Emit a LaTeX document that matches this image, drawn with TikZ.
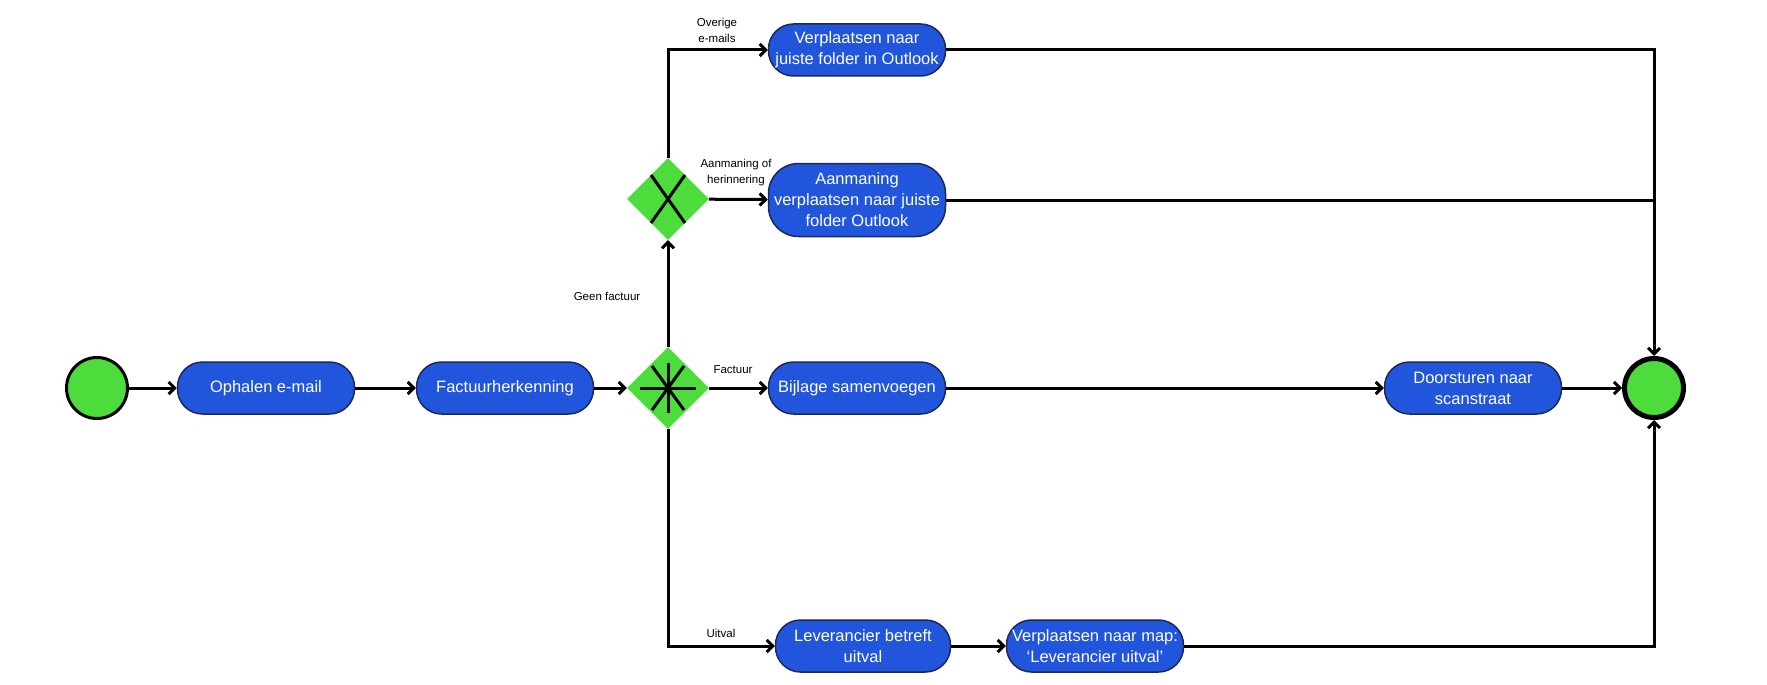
\documentclass[tikz,border=0pt]{standalone}
\usepackage{fontspec}
\setmainfont{Liberation Sans}
\usetikzlibrary{shapes.geometric,arrows.meta}
\definecolor{taskblue}{RGB}{33,85,219}
\definecolor{taskedge}{RGB}{28,40,90}
\definecolor{gwgreen}{RGB}{76,221,60}

\begin{document}
\begin{tikzpicture}[x=1pt, y=-1pt,
  task/.style={draw=taskedge, line width=1.5pt, fill=taskblue, text=white,
    rounded corners=25pt, minimum width=177pt, minimum height=52pt,
    inner sep=0pt, align=center, font=\fontsize{16.5}{21}\selectfont},
  gate/.style={diamond, fill=gwgreen, minimum width=82pt, minimum height=82pt, inner sep=0pt},
  event/.style={circle, draw=black, fill=gwgreen, line width=3pt, minimum size=61pt, inner sep=0pt},
  flow/.style={line width=3pt, -{Straight Barb[length=6pt,width=12pt]}},
  gwsign/.style={line width=3pt},
  lbl/.style={font=\fontsize{11.5}{16}\selectfont, align=center, inner sep=0pt}]
  \useasboundingbox (0,0) rectangle (1767,685);
  % events
  \node[event] (start) at (97,388) {};
  \node[event, line width=5pt, minimum size=59pt] (end) at (1654,388) {};
  % tasks
  \node[task] (oph) at (266,388) {Ophalen e-mail};
  \node[task] (fac) at (505,388) {Factuurherkenning};
  \node[task] (top) at (857,50) {Verplaatsen naar\\juiste folder in Outlook};
  \node[task, minimum height=73pt, rounded corners=30pt] (aan) at (857,200)
    {Aanmaning\\verplaatsen naar juiste\\folder Outlook};
  \node[task] (bij) at (857,388) {Bijlage samenvoegen};
  \node[task] (door) at (1473,388) {Doorsturen naar\\scanstraat};
  \node[task, minimum width=175pt] (lev) at (863,646) {Leverancier betreft\\uitval};
  \node[task] (map) at (1095,646) {Verplaatsen naar map:\\‘Leverancier uitval’};
  % gateways
  \node[gate] (gw1) at (668,388) {};
  \node[gate] (gw2) at (668,199) {};
  \draw[gwsign] ([shift={(-17,-24)}]gw2.center) -- ([shift={(17,24)}]gw2.center);
  \draw[gwsign] ([shift={(-17,24)}]gw2.center) -- ([shift={(17,-24)}]gw2.center);
  \draw[gwsign] ([shift={(-28,0)}]gw1.center) -- ([shift={(28,0)}]gw1.center);
  \draw[gwsign] ([shift={(0,-25)}]gw1.center) -- ([shift={(0,25)}]gw1.center);
  \draw[gwsign] ([shift={(-16,-22)}]gw1.center) -- ([shift={(16,22)}]gw1.center);
  \draw[gwsign] ([shift={(-16,22)}]gw1.center) -- ([shift={(16,-22)}]gw1.center);
  % labels
  \node[lbl] (lovr) at (717,30) {Overige\\e-mails};
  \node[lbl] (laan) at (736,173) {Aanmaning of\\herinnering};
  \node[lbl] (lgeen) at (607,296) {Geen factuur};
  \node[lbl] (lfac) at (733,370) {Factuur};
  \node[lbl] (luit) at (721,633) {Uitval};
  % flows
  \draw[flow] (start) -- (oph);
  \draw[flow] (oph) -- (fac);
  \draw[flow] (fac) -- (gw1);
  \draw[flow] (gw1) -- (bij);
  \draw[flow] (gw1) -- (gw2);
  \draw[flow] (gw2.north) |- (top.west);
  \draw[flow] (gw2) -- (aan);
  \draw[flow] (gw1.south) |- (lev.west);
  \draw[flow] (lev) -- (map);
  \draw[flow] (bij) -- (door);
  \draw[flow] (door) -- (end);
  \draw[flow] (top.east) -| (end.north);
  \draw[line width=3pt] (aan.east) -- (aan.east -| end.north);
  \draw[flow] (map.east) -| (end.south);
\end{tikzpicture}
\end{document}
